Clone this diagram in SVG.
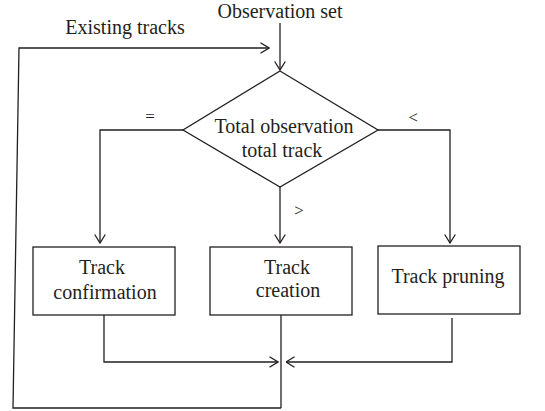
<svg xmlns="http://www.w3.org/2000/svg" width="545" height="411" viewBox="0 0 545 411">
<style>
text{font-family:'Liberation Serif','DejaVu Serif',serif;font-size:20px;fill:#231f20;text-anchor:middle}
.ln{fill:none;stroke:#231f20;stroke-width:1.3}
.nd{fill:#fff;stroke:#231f20;stroke-width:1.3}
</style>
<defs>
<marker id="ah" viewBox="0 0 10 12" refX="9.5" refY="6" markerWidth="10" markerHeight="12" markerUnits="userSpaceOnUse" orient="auto">
<polyline points="1,0.7 9.5,6 1,11.3" fill="none" stroke="#231f20" stroke-width="1.3"/>
</marker>
</defs>
<g id="connectors">
<line class="ln" x1="280" y1="23" x2="280" y2="70" marker-end="url(#ah)"/>
<polyline class="ln" points="281,408 13,408 19,48 269,48" marker-end="url(#ah)"/>
<polyline class="ln" points="183,130 100,130 100,243" marker-end="url(#ah)"/>
<polyline class="ln" points="378,130 450,130 450,243" marker-end="url(#ah)"/>
<line class="ln" x1="280" y1="187" x2="280" y2="243" marker-end="url(#ah)"/>
<polyline class="ln" points="104,315 104,362 278,362" marker-end="url(#ah)"/>
<polyline class="ln" points="452,318 452,362 286,362" marker-end="url(#ah)"/>
<line class="ln" x1="281" y1="315" x2="281" y2="408"/>
<text x="150" y="122" font-family="Liberation Serif" style="font-size:17px">=</text>
<text x="413" y="123" style="font-size:17px">&lt;</text>
<text x="299" y="216" style="font-size:17px">&gt;</text>
</g>
<g id="input">
<text x="280" y="18">Observation set</text>
</g>
<g id="existing">
<text x="125" y="34">Existing tracks</text>
</g>
<g id="decision">
<polygon class="nd" points="280,71 378,130 280,187 183,130"/>
<text x="284" y="133">Total observation</text>
<text x="282" y="157">total track</text>
</g>
<g id="confirmation">
<rect class="nd" x="33" y="247" width="142" height="68"/>
<text x="102" y="274">Track</text>
<text x="105" y="299">confirmation</text>
</g>
<g id="creation">
<rect class="nd" x="210" y="247" width="142" height="68"/>
<text x="287" y="274">Track</text>
<text x="288" y="297">creation</text>
</g>
<g id="pruning">
<rect class="nd" x="378" y="246" width="142" height="68"/>
<text x="448" y="283">Track pruning</text>
</g>
</svg>
